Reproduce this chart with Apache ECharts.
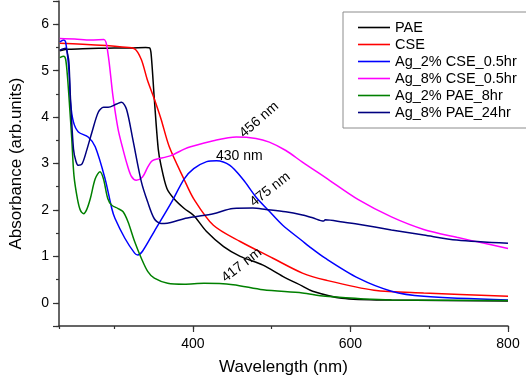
<!doctype html>
<html>
<head>
	<meta charset="utf-8">
	<title>UV-Vis absorbance</title>
	<script src="https://cdn.jsdelivr.net/npm/echarts@6/dist/echarts.min.js"></script>
	<style>
		html, body { margin: 0; padding: 0; background: #fff; }
		#main { width: 526px; height: 381px; }
	</style>
</head>
<body>
	<div id="main"></div>
	<script>
		// values (wavelength in nm, absorbance in arb. units)
		var seriesNames = ['PAE', 'CSE', 'Ag_2% CSE_0.5hr', 'Ag_8% CSE_0.5hr', 'Ag_2% PAE_8hr', 'Ag_8% PAE_24hr'];
		var seriesColors = ['#000000', '#ff0000', '#0000ff', '#ff00ff', '#008000', '#000080'];

		var paeWl = [231, 240, 260, 280, 300, 320, 340, 345, 347, 351, 356, 359.5, 367, 376, 389, 401, 417, 439, 460, 489, 514, 539, 552, 589, 652, 800];
		var paeAbs = [5.43, 5.46, 5.47, 5.48, 5.49, 5.49, 5.50, 5.49, 5.35, 4.39, 3.31, 2.96, 2.46, 2.24, 2.03, 1.88, 1.54, 1.21, 1.00, 0.81, 0.57, 0.36, 0.25, 0.10, 0.06, 0.04];

		var cseWl = [231, 260, 290, 310, 326, 334.5, 342, 351, 359.5, 370, 389, 401, 426, 460, 501.5, 539, 568, 630, 693, 800];
		var cseAbs = [5.59, 5.57, 5.54, 5.51, 5.47, 5.24, 4.81, 4.39, 3.96, 3.36, 2.65, 2.24, 1.67, 1.32, 0.96, 0.64, 0.49, 0.27, 0.21, 0.14];

		var ag2cseWl = [231, 236, 238.5, 242.5, 244.6, 248.4, 254.6, 267, 276, 288.5, 297, 301, 313.6, 326, 330, 336, 351, 372, 389, 401, 417.5, 430, 447, 464, 480, 497, 514, 539, 547, 568, 610, 652, 693, 800];
		var ag2cseAbs = [5.62, 5.66, 5.61, 5.03, 4.32, 3.89, 3.68, 3.57, 3.36, 2.67, 2.03, 1.82, 1.39, 1.07, 1.03, 1.11, 1.54, 2.14, 2.67, 2.89, 3.04, 3.06, 2.96, 2.65, 2.28, 1.97, 1.67, 1.33, 1.22, 0.96, 0.53, 0.25, 0.14, 0.06];

		var ag8cseWl = [231, 250, 270, 287, 292, 298.5, 305, 311, 317, 322, 328, 336, 342, 347, 351, 372, 389, 397, 426, 455, 480, 497, 518, 539, 568, 610, 652, 693, 735, 770, 800];
		var ag8cseAbs = [5.69, 5.68, 5.66, 5.67, 5.39, 4.45, 3.74, 3.32, 2.95, 2.72, 2.64, 2.71, 2.90, 3.04, 3.08, 3.17, 3.31, 3.36, 3.49, 3.57, 3.54, 3.46, 3.28, 3.03, 2.70, 2.22, 1.85, 1.58, 1.41, 1.28, 1.17];

		var ag2paeWl = [231, 236, 238.5, 241, 243.7, 246.2, 249, 253.4, 257.2, 261.3, 265, 269.7, 276, 282, 286.4, 292, 297, 305, 311.4, 317.7, 326, 334.5, 342.8, 351, 368, 389, 414, 451, 489, 539, 568, 652, 800];
		var ag2paeAbs = [5.28, 5.31, 5.24, 4.82, 4.17, 3.53, 2.74, 2.24, 1.99, 1.92, 2.00, 2.24, 2.67, 2.82, 2.67, 2.24, 2.10, 2.03, 1.96, 1.74, 1.32, 0.96, 0.67, 0.53, 0.42, 0.40, 0.42, 0.39, 0.28, 0.21, 0.14, 0.06, 0.05];

		var ag8paeWl = [231, 238.5, 241, 242.6, 244.6, 248.4, 251.5, 254.6, 259.3, 265.6, 271.9, 280, 286.6, 292.3, 303, 309.4, 315.7, 323.6, 334.5, 342.4, 351, 359.4, 363.7, 372, 388.7, 401, 426, 451, 476, 492.7, 517.7, 539, 552, 566, 568, 590, 610, 652, 693, 735, 800];
		var ag8paeAbs = [5.44, 5.48, 5.35, 5.18, 4.39, 3.31, 3.05, 2.96, 2.99, 3.31, 3.68, 4.11, 4.21, 4.21, 4.28, 4.32, 4.17, 3.53, 2.61, 2.18, 1.81, 1.71, 1.71, 1.73, 1.81, 1.85, 1.92, 2.03, 2.04, 2.01, 1.96, 1.89, 1.83, 1.76, 1.79, 1.74, 1.69, 1.57, 1.46, 1.35, 1.28];

		// peak labels: text, series index, wavelength, absorbance, angle
		var peakText = ['456 nm', '430 nm', '475 nm', '417 nm'];
		var peakSeries = [3, 2, 5, 4];
		var peakWl = [484, 459, 498, 462];
		var peakAbs = [3.94, 3.16, 2.44, 0.81];
		var peakAngle = [41, 0, 38, 38];

		var wl = [paeWl, cseWl, ag2cseWl, ag8cseWl, ag2paeWl, ag8paeWl];
		var abs = [paeAbs, cseAbs, ag2cseAbs, ag8cseAbs, ag2paeAbs, ag8paeAbs];

		var font = 'Liberation Sans, Arial, sans-serif';

		var series = seriesNames.map(function (name, i) {
			var marks = [];
			for (var k = 0; k < peakText.length; k++) {
				if (peakSeries[k] !== i) continue;
				marks.push({
					coord: [peakWl[k], peakAbs[k]],
					label: { formatter: peakText[k], rotate: peakAngle[k] }
				});
			}
			return {
				name: name,
				type: 'line',
				xAxisIndex: 0,
				yAxisIndex: 0,
				symbol: 'none',
				smooth: 0.3,
				lineStyle: { color: seriesColors[i], width: 1.5 },
				itemStyle: { color: seriesColors[i] },
				data: wl[i].map(function (x, j) { return [x, abs[i][j]]; }),
				markPoint: marks.length ? {
					symbol: 'rect',
					symbolSize: 1,
					silent: true,
					itemStyle: { color: 'rgba(0,0,0,0)' },
					label: { show: true, position: 'inside', color: '#000', fontSize: 14, fontFamily: font },
					data: marks
				} : undefined
			};
		});

		var chart = echarts.init(document.getElementById('main'));
		chart.setOption({
			animation: false,
			grid: { left: 54, right: 18, top: 1, bottom: 53, containLabel: false },
			legend: {
				orient: 'vertical',
				left: 343,
				top: 12,
				data: seriesNames,
				icon: 'rect',
				padding: [7, 10, 7, 15],
				itemGap: 0,
				itemWidth: 32,
				itemHeight: 1.6,
				itemTextGap: 4,
				borderColor: '#8c8c8c',
				borderWidth: 1,
				textStyle: { fontSize: 14.5, lineHeight: 17, color: '#000', fontFamily: font }
			},
			xAxis: [{
				type: 'value',
				position: 'bottom',
				min: 230,
				max: 800,
				splitNumber: 3,
				name: 'Wavelength (nm)',
				nameLocation: 'middle',
				nameGap: 33,
				nameTextStyle: { fontSize: 17, color: '#000', fontFamily: font },
				axisLine: { onZero: false, lineStyle: { color: '#333', width: 1.5 } },
				axisTick: { length: 6, lineStyle: { color: '#333', width: 1.2 } },
				axisLabel: { showMinLabel: false, margin: 11, fontSize: 14, color: '#000', fontFamily: font },
				splitLine: { show: false }
			}, {
				// minor ticks every 100 nm
				type: 'value',
				position: 'bottom',
				min: 230,
				max: 800,
				splitNumber: 6,
				axisLine: { show: false, onZero: false },
				axisTick: { length: 3, lineStyle: { color: '#333', width: 1.2 } },
				axisLabel: { show: false },
				splitLine: { show: false }
			}],
			yAxis: [{
				type: 'value',
				position: 'left',
				min: -0.5,
				max: 6.5,
				interval: 0.5,
				name: 'Absorbance (arb.units)',
				nameLocation: 'middle',
				nameGap: 34,
				nameTextStyle: { fontSize: 17, color: '#000', fontFamily: font },
				axisLine: { onZero: false, lineStyle: { color: '#333', width: 1.5 } },
				axisTick: { length: 3, lineStyle: { color: '#333', width: 1.2 } },
				axisLabel: {
					margin: 10,
					fontSize: 14,
					color: '#000',
					fontFamily: font,
					formatter: function (v) {
						return Math.abs(v - Math.round(v)) < 1e-6 ? String(Math.round(v)) : '';
					}
				},
				splitLine: { show: false }
			}, {
				// major ticks on whole numbers
				type: 'value',
				position: 'left',
				min: -0.5,
				max: 6.5,
				splitNumber: 7,
				axisLine: { show: false, onZero: false },
				axisTick: { length: 6, lineStyle: { color: '#333', width: 1.2 } },
				axisLabel: { show: false },
				splitLine: { show: false }
			}],
			series: series
		});
	</script>
</body>
</html>
